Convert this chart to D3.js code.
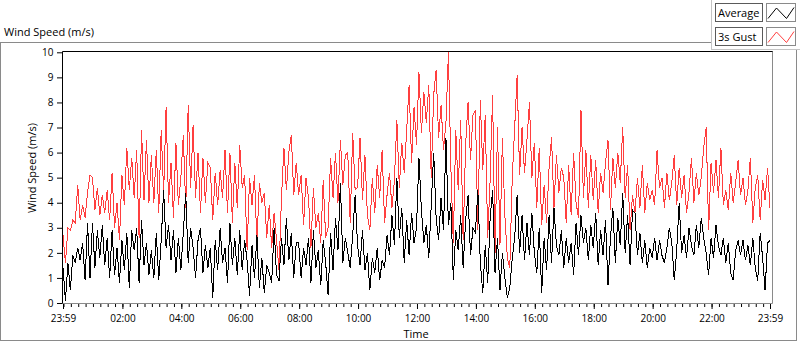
<!DOCTYPE html>
<html>
<head>
<meta charset="utf-8">
<script src="https://cdnjs.cloudflare.com/ajax/libs/d3/7.8.5/d3.min.js"></script>
<style>
  body { margin: 0; background: #fff; }
  svg text { font-family: "Segoe UI", "Open Sans", "Noto Sans", sans-serif; fill: #000; }
</style>
</head>
<body>
<div class="chart"></div>
<script>
// one reading every 5 minutes, 23:59 -> 23:59 (289 values)
var avgWind = [
  1.4, 0.1, 1.6, 0.5, 1.9, 1.6, 2.2, 1.7, 2.4, 0.9, 3.2, 1.0,
  3.2, 1.4, 2.9, 1.8, 3.1, 1.5, 2.6, 1.0, 2.9, 1.1, 2.2, 0.8,
  2.5, 1.3, 2.8, 0.6, 2.9, 2.1, 3.0, 0.8, 3.3, 1.5, 2.4, 1.1,
  2.1, 1.0, 2.8, 0.9, 2.5, 4.5, 2.2, 3.1, 1.7, 2.9, 1.2, 2.6,
  1.3, 2.8, 4.4, 1.6, 3.0, 2.2, 1.0, 2.5, 3.0, 1.2, 2.3, 1.4,
  2.2, 0.2, 2.5, 1.3, 3.0, 1.6, 2.2, 0.8, 3.2, 1.5, 2.6, 1.1,
  2.9, 1.3, 2.5, 1.7, 0.3, 2.3, 1.0, 2.7, 0.6, 1.8, 0.4, 1.5,
  1.2, 0.8, 3.0, 1.1, 0.9, 2.6, 1.5, 3.4, 1.7, 2.8, 1.0, 2.4,
  2.4, 1.0, 2.2, 1.5, 2.6, 0.8, 2.9, 1.4, 2.1, 0.7, 2.5, 1.6,
  0.3, 2.8, 1.3, 3.4, 2.1, 4.8, 1.6, 2.6, 2.0, 1.4, 2.7, 4.3,
  2.3, 1.5, 2.9, 1.3, 2.0, 0.5, 1.8, 1.2, 2.2, 0.9, 1.7, 1.4,
  2.7, 1.9, 3.5, 2.3, 5.0, 2.6, 3.8, 1.6, 3.3, 1.9, 3.6, 2.4,
  3.0, 5.8, 3.7, 2.4, 3.1, 1.8, 3.9, 6.0, 3.4, 2.5, 4.2, 2.9,
  6.6, 3.1, 4.0, 0.9, 2.9, 2.1, 3.5, 1.4, 3.3, 4.3, 1.9, 3.0,
  2.8, 4.5, 1.6, 0.4, 2.3, 0.8, 3.4, 4.5, 1.2, 2.6, 0.5, 2.0,
  1.0, 0.2, 0.6, 1.8, 2.6, 4.3, 2.0, 3.5, 1.7, 3.2, 1.9, 3.6,
  2.0, 1.2, 3.0, 0.4, 2.6, 1.3, 3.5, 1.6, 3.8, 2.3, 1.9, 2.9,
  1.4, 2.6, 1.6, 2.4, 1.1, 3.2, 1.9, 3.5, 2.4, 3.0, 1.7, 3.1,
  2.2, 3.6, 1.5, 2.9, 1.9, 3.3, 0.7, 2.6, 3.8, 1.6, 3.4, 2.3,
  4.4, 2.0, 3.5, 1.5, 3.7, 3.6, 1.9, 2.8, 1.6, 2.5, 1.4, 2.2,
  1.8, 2.6, 1.7, 2.5, 1.9, 1.6, 2.2, 3.0, 2.4, 0.9, 2.1, 4.0,
  2.0, 2.7, 1.8, 3.0, 2.3, 1.9, 3.1, 2.2, 3.4, 2.6, 2.0, 1.1,
  2.6, 1.8, 3.1, 2.3, 1.9, 2.6, 1.6, 2.4, 1.2, 0.9, 2.1, 2.5,
  1.9, 2.5, 1.7, 2.3, 1.5, 2.6, 1.4, 0.9, 2.8, 1.8, 0.5, 2.4,
  2.5
];

var gustWind = [
  2.7, 1.6, 3.0, 2.9, 3.3, 3.2, 4.7, 3.3, 3.9, 3.4, 4.4, 5.1,
  5.0, 3.7, 4.6, 3.5, 4.3, 3.6, 4.5, 3.3, 5.2, 3.0, 4.0, 2.5,
  5.1, 3.9, 6.2, 4.5, 5.8, 4.2, 6.1, 2.6, 6.9, 4.1, 6.5, 4.0,
  5.9, 4.0, 6.1, 3.6, 6.9, 4.4, 7.8, 4.0, 5.6, 3.4, 6.4, 3.9,
  5.0, 6.7, 3.8, 7.9, 4.6, 7.1, 4.2, 6.0, 3.6, 5.8, 4.0, 5.6,
  5.4, 3.3, 5.2, 3.9, 5.3, 4.2, 6.1, 3.6, 6.0, 3.2, 5.6, 3.8,
  6.3, 4.6, 5.1, 2.1, 5.0, 3.9, 5.1, 2.4, 4.8, 4.0, 4.4, 2.6,
  3.9, 2.2, 3.6, 2.5, 1.3, 4.2, 6.2, 4.5, 6.0, 6.7, 4.3, 5.6,
  4.3, 5.1, 3.1, 5.0, 4.2, 2.2, 4.6, 3.0, 3.6, 2.4, 4.9, 2.6,
  3.0, 5.8, 4.2, 6.0, 4.0, 6.5, 4.7, 5.9, 6.0, 3.2, 6.8, 4.5,
  4.6, 6.6, 4.1, 5.9, 3.5, 2.9, 5.0, 3.6, 5.5, 4.2, 6.1, 3.2,
  4.3, 5.2, 3.8, 4.9, 7.3, 4.6, 6.4, 5.2, 6.9, 8.7, 5.6, 7.8,
  6.3, 9.2, 6.8, 8.4, 7.2, 8.7, 5.0, 8.3, 9.3, 6.6, 7.9, 6.1,
  7.2, 10.0, 5.4, 2.4, 6.9, 4.5, 7.3, 2.5, 6.3, 8.0, 5.7, 7.5,
  7.7, 2.9, 8.1, 5.3, 7.5, 2.6, 4.9, 8.3, 2.0, 7.0, 2.3, 6.6,
  3.5, 1.8, 1.4, 5.0, 7.0, 9.1, 5.1, 7.0, 5.2, 6.5, 8.0, 5.0,
  6.4, 3.8, 6.2, 3.1, 4.7, 3.2, 5.4, 6.6, 3.8, 5.9, 4.4, 5.4,
  5.0, 3.2, 5.5, 3.5, 6.0, 4.0, 3.4, 7.7, 4.2, 6.1, 3.8, 5.9,
  4.1, 5.7, 3.6, 5.2, 4.4, 5.6, 6.5, 3.7, 5.8, 4.6, 6.0, 4.8,
  7.0, 4.2, 5.5, 2.9, 4.3, 3.6, 5.0, 3.8, 5.5, 3.6, 4.8, 4.1,
  4.5, 3.9, 6.1, 4.6, 5.0, 3.8, 5.2, 4.1, 4.8, 5.9, 3.9, 5.4,
  4.2, 5.1, 3.6, 4.4, 5.8, 4.0, 5.2, 4.3, 5.0, 6.2, 7.0, 2.9,
  5.6, 4.4, 5.7, 4.2, 6.2, 3.9, 4.5, 3.7, 5.2, 4.0, 4.8, 5.7,
  4.3, 5.0, 3.9, 4.5, 5.8, 3.2, 4.6, 5.1, 3.3, 4.9, 4.1, 5.4,
  3.8
];

var yTicks = [0, 1, 2, 3, 4, 5, 6, 7, 8, 9, 10];
var xTickHours = [2, 4, 6, 8, 10, 12, 14, 16, 18, 20, 22];
var seriesNames = ['Average', '3s Gust'];
var seriesColors = ['#000000', '#ff3f3f'];

var width = 800,
  height = 342

var startTime = new Date(2020, 0, 1, 23, 59),
  endTime = new Date(2020, 0, 2, 23, 59)

var times = avgWind.map(function(d, i) { return d3.timeMinute.offset(startTime, i * 5); });

var svg = d3.select('.chart')
  .append('svg')
  .attr('width', width)
  .attr('height', height)

// FRAMES
svg.append('rect')
  .attr('x', 0.5).attr('y', 42.5)
  .attr('width', 796).attr('height', 298)
  .attr('fill', '#fff')
  .attr('stroke', '#8a8a8a')

svg.append('text')
  .attr('x', 4).attr('y', 36)
  .style('font-size', '11px')
  .text('Wind Speed (m/s)')

//ADD SCALE
var xScale = d3.scaleTime()
  .domain([startTime, endTime])
  .range([63, 770]);

var yScale = d3.scaleLinear()
  .domain([0, 10])
  .range([303, 52.3]);

// plot area
svg.append('clipPath').attr('id', 'clip')
  .append('rect')
  .attr('x', 62.5).attr('y', 51.5)
  .attr('width', 710).attr('height', 252)

var line = d3.line()
  .x(function(d, i) { return xScale(times[i]); })
  .y(function(d) { return yScale(d); })

// gust under average
svg.append('path')
  .datum(gustWind)
  .attr('clip-path', 'url(#clip)')
  .attr('d', line)
  .attr('fill', 'none')
  .attr('stroke', seriesColors[1])
  .attr('stroke-width', 1)
  .attr('shape-rendering', 'crispEdges')

svg.append('path')
  .datum(avgWind)
  .attr('clip-path', 'url(#clip)')
  .attr('d', line)
  .attr('fill', 'none')
  .attr('stroke', seriesColors[0])
  .attr('stroke-width', 1)
  .attr('shape-rendering', 'crispEdges')

// frame edges, black top/left, grey bottom/right
svg.append('path')
  .attr('d', 'M62.5,304V51.5H773')
  .attr('fill', 'none').attr('stroke', '#000')
svg.append('path')
  .attr('d', 'M62.5,303.5H772.5V51.5')
  .attr('fill', 'none').attr('stroke', '#8a8a8a')

//ADD AXIS
var majorTimes = [startTime].concat(xTickHours.map(function(h) {
  return new Date(2020, 0, 2, h, 0);
})).concat([endTime]);

var xMinor = d3.axisBottom(xScale)
  .ticks(d3.timeMinute.every(15))
  .tickSize(3)
  .tickFormat('')

svg.append('g')
  .attr('transform', 'translate(0,304)')
  .call(xMinor)
  .call(function(g) { g.select('.domain').remove(); })

var xAxis = d3.axisBottom(xScale)
  .tickValues(majorTimes)
  .tickSize(5)
  .tickPadding(6)
  .tickFormat(d3.timeFormat('%H:%M'))

svg.append('g')
  .attr('transform', 'translate(0,304)')
  .call(xAxis)
  .call(function(g) { g.select('.domain').remove(); })
  .selectAll('text')
  .style('font-size', '10px')

var yAxis = d3.axisLeft(yScale)
  .tickValues(yTicks)
  .tickSize(5)
  .tickPadding(3.5)

svg.append('g')
  .attr('transform', 'translate(62,0)')
  .call(yAxis)
  .call(function(g) { g.select('.domain').remove(); })
  .selectAll('text')
  .style('font-size', '10px')

svg.selectAll('.tick line').attr('stroke', '#000')

svg.append('text')
  .attr('x', 416).attr('y', 338)
  .attr('text-anchor', 'middle')
  .style('font-size', '11px')
  .text('Time')

svg.append('text')
  .attr('transform', 'translate(36,168) rotate(-90)')
  .attr('text-anchor', 'middle')
  .style('font-size', '11px')
  .text('Wind Speed (m/s)')

// LEGEND
svg.append('rect')
  .attr('x', 711.5).attr('y', -1)
  .attr('width', 100).attr('height', 50.5)
  .attr('fill', '#fff')
  .attr('stroke', '#c4c4c4')

var legend = svg.selectAll('.legend')
  .data(seriesNames)
  .enter()
  .append('g')
  .attr('class', 'legend')
  .attr('transform', function(d, i) { return 'translate(0,' + (i * 24) + ')'; })

legend.append('rect')
  .attr('x', 715.5).attr('y', 3.5)
  .attr('width', 47).attr('height', 18)
  .attr('fill', '#fff')
  .attr('stroke', '#5a5a5a')

legend.append('text')
  .attr('x', 718).attr('y', 16.5)
  .style('font-size', '11px')
  .text(function(d) { return d; })

legend.append('rect')
  .attr('x', 766.5).attr('y', 3.5)
  .attr('width', 29).attr('height', 18)
  .attr('fill', '#fff')
  .attr('stroke', '#8a8a8a')

legend.append('path')
  .attr('d', 'M768,18.5L776.5,8L786.5,18.5L794,7.5')
  .attr('fill', 'none')
  .attr('stroke', function(d, i) { return seriesColors[i]; })
</script>
</body>
</html>
